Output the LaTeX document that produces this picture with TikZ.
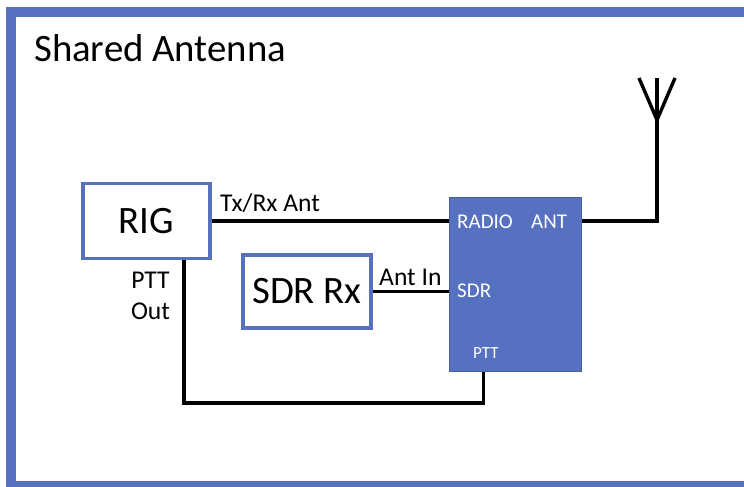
\documentclass[tikz,border=0pt]{standalone}
\usepackage{fontspec}
\setmainfont{Carlito}
\definecolor{boxblue}{RGB}{85,113,191}
\tikzset{
  unitbox/.style={draw=boxblue,line width=3.6pt,fill=white,inner sep=0pt,font=\fontsize{38.8}{38.8}\selectfont},
  wire/.style={line width=3.4pt,color=black,line cap=butt,line join=miter},
  lbl/.style={inner sep=0pt,font=\fontsize{25.6}{25.6}\selectfont},
  portlbl/.style={lbl,text=white,font=\fontsize{21}{21}\selectfont},
}
\begin{document}
\begin{tikzpicture}[x=1pt,y=-1pt]
        \useasboundingbox (0,0) rectangle (744,487);
        \clip (0,0) rectangle (744,487);
        %outer frame runs off the right edge
        \draw[draw=boxblue,line width=10pt] (11,12) rectangle (770,486);
        \node [anchor=base west,inner sep=0pt,font=\fontsize{38.8}{38.8}\selectfont] (title) at (34,62) {Shared Antenna};

        \node [unitbox,minimum width=127pt,minimum height=75pt] (rig) at (146.5,221) {RIG};
        \node [unitbox,minimum width=128pt,minimum height=73pt] (sdr) at (307,291.5) {SDR Rx};
        \node [fill=boxblue,draw=boxblue!85!black,line width=0.6pt,inner sep=0pt,minimum width=132pt,minimum height=174pt] (switch) at (515.5,284.5) {};

        %antenna points
        \coordinate (antbase) at (657,221);
        \coordinate (antfork) at (657,120);
        \coordinate (anttop) at (657,78);
        \coordinate (antleft) at (639,78);
        \coordinate (antright) at (675,78);
        \coordinate (pttleft) at (184,403);
        \coordinate (pttright) at (483.5,403);

        \draw[wire] (rig.east) -- (switch.west |- rig.east);
        \draw[wire] (sdr.east) -- (switch.west |- sdr.east);
        \draw[wire] (switch.east |- antbase) -- (antbase) -- (anttop);
        \draw[wire] (antleft) -- (antfork) -- (antright);
        \draw[wire] (rig.south -| pttleft) -- (pttleft) -- (pttright) -- (pttright |- switch.south);

        \node [lbl,anchor=base west] (txrx) at (220,211) {Tx/Rx Ant};
        \node [lbl,anchor=base west] (antin) at (379,285) {Ant In};
        \node [lbl,anchor=base] (pttlbl) at (150.5,288) {PTT};
        \node [lbl,anchor=base] (outlbl) at (150.5,319) {Out};

        \node [portlbl,anchor=base west] (radio) at (457,228) {RADIO};
        \node [portlbl,anchor=base west] (ant) at (531,228) {ANT};
        \node [portlbl,anchor=base west] (sdrport) at (457,297) {SDR};
        \node [portlbl,anchor=base west,font=\fontsize{17}{17}\selectfont] (ptt) at (473,358) {PTT};
        \end{tikzpicture}
\end{document}
